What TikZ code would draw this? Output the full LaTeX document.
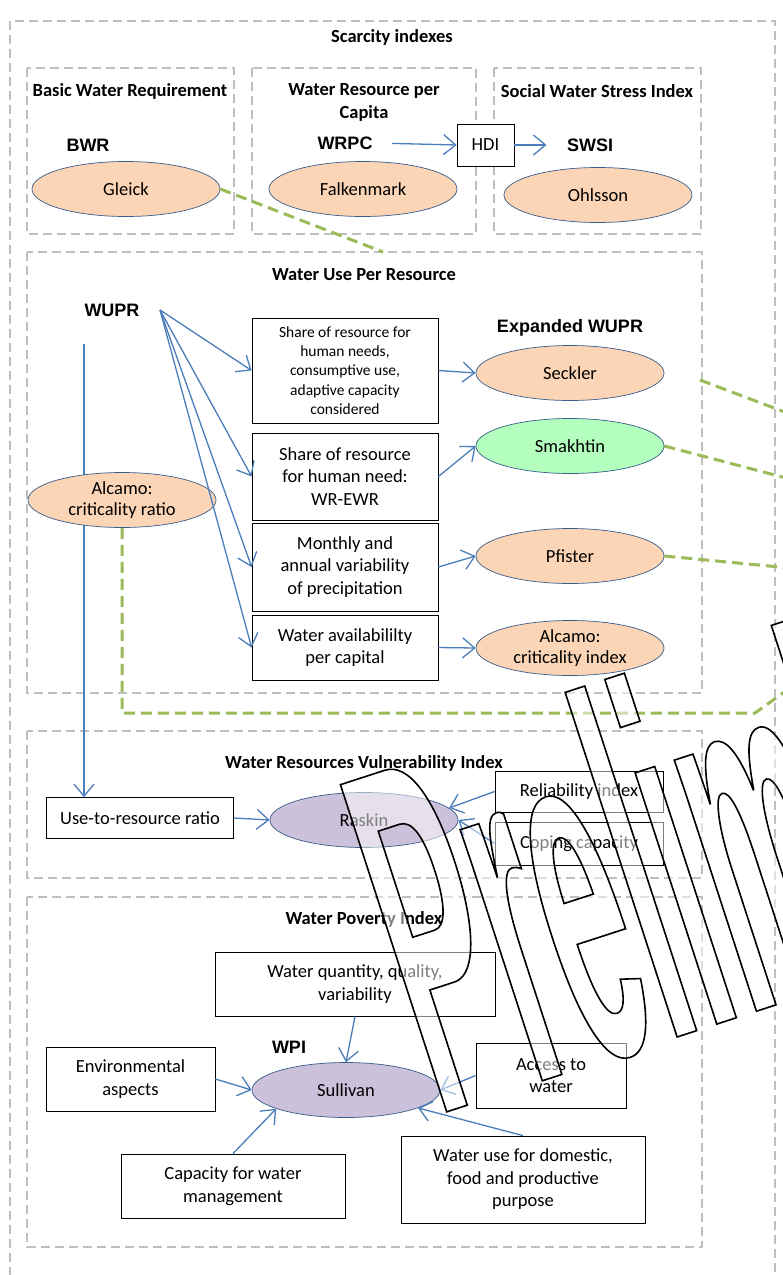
\documentclass[tikz,border=0pt]{standalone}
\usepackage{fontspec}
\setmainfont{Carlito}
\newfontfamily\arialfont{Liberation Sans}
\newfontfamily\wmfont[FakeStretch=0.3]{Liberation Sans}
\usetikzlibrary{arrows.meta,shapes.geometric}
\definecolor{arrowblue}{HTML}{4A7EBB}
\definecolor{ellblue}{HTML}{385D8A}
\definecolor{regiongray}{HTML}{BFBFBF}
\definecolor{dgreen}{HTML}{9BBB59}
\definecolor{orangefill}{HTML}{FBD5B5}
\definecolor{greenfill}{HTML}{B3FFBE}
\definecolor{purplefill}{HTML}{CCC1DA}
\pgfdeclarelayer{bg}
\pgfsetlayers{bg,main}
\begin{document}
\begin{tikzpicture}[x=1pt,y=-1pt,
  region/.style={draw=regiongray, line width=2.6pt, dash pattern=on 9pt off 5pt},
  gline/.style={draw=dgreen, line width=3pt, dash pattern=on 11pt off 6pt},
  arr/.style={draw=arrowblue, line width=1.3pt, -{Straight Barb[length=12pt,width=20pt]}},
  tbox/.style={draw=black, line width=0.8pt, fill=white, align=center, inner sep=1pt, font=\fontsize{18.5}{22.5}\selectfont},
  ell/.style={ellipse, draw=ellblue, line width=0.7pt, minimum width=188pt, minimum height=55pt, inner sep=0pt, align=center, font=\fontsize{18.5}{21}\selectfont},
  ttl/.style={font=\bfseries\fontsize{18.5}{23}\selectfont, align=center},
  lbl/.style={font=\arialfont\bfseries\fontsize{18}{20}\selectfont},
]
\useasboundingbox (0,0) rectangle (783,1275);

% ---------- Scarcity indexes ----------
\node[ttl] (tScar) at (392,37) {Scarcity indexes};
\node[ttl] (tBWR) at (130,91) {Basic Water Requirement};
\node[ttl] (tWRPC) at (364,102.5) {Water Resource per\\Capita};
\node[ttl] (tSWSI) at (597,91) {Social Water Stress Index};
\node[lbl] (bwr) at (88,145) {BWR};
\node[lbl] (wrpc) at (345,143) {WRPC};
\node[lbl] (swsi) at (590,145) {SWSI};
\node[tbox, minimum width=57pt, minimum height=42pt] (hdi) at (485.5,145) {HDI};
\node[ell, fill=orangefill] (gleick) at (126,189) {Gleick};
\node[ell, fill=orangefill] (falk) at (363,189) {Falkenmark};
\node[ell, fill=orangefill] (ohl) at (598,195) {Ohlsson};
\draw[arr, shorten <=16pt] (wrpc.east) -- (hdi.west);
\draw[arr, shorten >=17pt] (hdi.east) -- (swsi.west);

% ---------- Water Use Per Resource ----------
\node[ttl] (tWUPR) at (364,275) {Water Use Per Resource};
\node[lbl] (wupr) at (112,310) {WUPR};
\node[lbl] (ewupr) at (570,328) {Expanded WUPR};
\node[tbox, minimum width=186pt, minimum height=105pt, font=\fontsize{15.5}{19.3}\selectfont] (b1) at (345,370.5) {Share of resource for\\human needs,\\consumptive use,\\adaptive capacity\\considered};
\node[tbox, minimum width=186pt, minimum height=87pt] (b2) at (345,476.5) {Share of resource\\for human need:\\WR-EWR};
\node[tbox, minimum width=186pt, minimum height=88pt] (b3) at (345,567) {Monthly and\\annual variability\\of precipitation};
\node[tbox, minimum width=186pt, minimum height=65pt] (b4) at (345,647.5) {Water availabililty\\per capital};
\node[ell, fill=orangefill] (seck) at (570,373) {Seckler};
\node[ell, fill=greenfill] (smak) at (570,446) {Smakhtin};
\node[ell, fill=orangefill] (pfis) at (570,556) {Pfister};
\node[ell, fill=orangefill] (alci) at (570,648) {Alcamo:\\criticality index};
\node[ell, fill=orangefill] (alcr) at (122,500) {Alcamo:\\criticality ratio};
\coordinate (wsrc) at (160,310);
\draw[arr] (wsrc) -- (b1.west);
\draw[arr] (wsrc) -- (b2.west);
\draw[arr] (wsrc) -- (b3.west);
\draw[arr] (wsrc) -- (b4.west);
\draw[arr] (b1.east) -- (seck.west);
\draw[arr] (b2.east) -- (smak.west);
\draw[arr] (b3.east) -- (pfis.west);
\draw[arr] (b4.east) -- (alci.west);

% ---------- Water Resources Vulnerability Index ----------
\node[ttl] (tWRVI) at (364,763) {Water Resources Vulnerability Index};
\node[tbox, minimum width=187pt, minimum height=41pt] (utr) at (140,818) {Use-to-resource ratio};
\node[ell, fill=purplefill] (rask) at (364,820) {Raskin};
\node[tbox, minimum width=168pt, minimum height=41pt] (rel) at (579,791.5) {Reliability index};
\node[tbox, minimum width=168pt, minimum height=43pt] (cop) at (579,843.5) {Coping capacity};
\draw[arr] (utr.east) -- (rask.west);
\draw[arr] (rel.west) -- (rask.8);
\draw[arr] (cop.west) -- (rask.east);

% ---------- Water Poverty Index ----------
\node[ttl] (tWPI) at (364,919) {Water Poverty Index};
\node[tbox, minimum width=280pt, minimum height=64pt] (wq) at (355,984) {Water quantity, quality,\\variability};
\node[lbl] (wpi) at (289,1047) {WPI};
\node[tbox, minimum width=169pt, minimum height=64pt] (env) at (130.5,1079) {Environmental\\aspects};
\node[ell, fill=purplefill] (sull) at (346,1090) {Sullivan};
\node[tbox, minimum width=150pt, minimum height=65pt] (acc) at (551,1075.5) {Access to\\water};
\node[tbox, minimum width=224pt, minimum height=64pt] (cap) at (233,1186) {Capacity for water\\management};
\node[tbox, minimum width=244pt, minimum height=87pt] (wu) at (523,1179.5) {Water use for domestic,\\food and productive\\purpose};
\draw[arr] (wq.south) -- (sull.north);
\draw[arr] (env.east) -- (sull.west);
\draw[arr] (acc.west) -- (sull.east);
\draw[arr] (cap.north) -- (sull.195);
\draw[arr] (wu.north) -- (sull.346);

% ---------- background: regions and dashed links ----------
\coordinate (vtop) at (84,344);
\coordinate (g1) at (383,252);
\coordinate (g2a) at (700,380);
\coordinate (g2b) at (790,414);
\coordinate (g3) at (790,479);
\coordinate (g4) at (790,568);
\coordinate (g5) at (755,713);
\coordinate (g6) at (790,688);
\begin{pgfonlayer}{bg}
\fill[white] (0,0) rectangle (783,1275);
\draw[region] (10,21) rectangle (775,1300);
\draw[region] (27,68) rectangle (234,234);
\draw[region] (252,68) rectangle (476,234);
\draw[region] (494,68) rectangle (701,234);
\draw[region] (27,252) rectangle (702,693);
\draw[region] (27,731) rectangle (702,878);
\draw[region] (27,897) rectangle (702,1247);
\draw[gline] (gleick.east) -- (g1);
\draw[gline] (g2a) -- (g2b);
\draw[gline] (smak.east) -- (g3);
\draw[gline] (pfis.east) -- (g4);
\draw[gline] (alcr.south) -- (alcr.south |- g5) -- (g5) -- (g6);
\draw[arr] (vtop) -- (vtop |- utr.north);
\end{pgfonlayer}

% ---------- watermark ----------
\begin{scope}[fill opacity=0.5]
\node[anchor=base west, inner sep=0pt, rotate=18, font=\wmfont\bfseries\fontsize{500}{500}\selectfont] (wm) at (437,1115) {\special{pdf:literal direct 1 1 1 rg 0 0 0 RG 2 Tr 1.6 w}Preliminary\special{pdf:literal direct 0 Tr}};
\end{scope}
\end{tikzpicture}
\end{document}
